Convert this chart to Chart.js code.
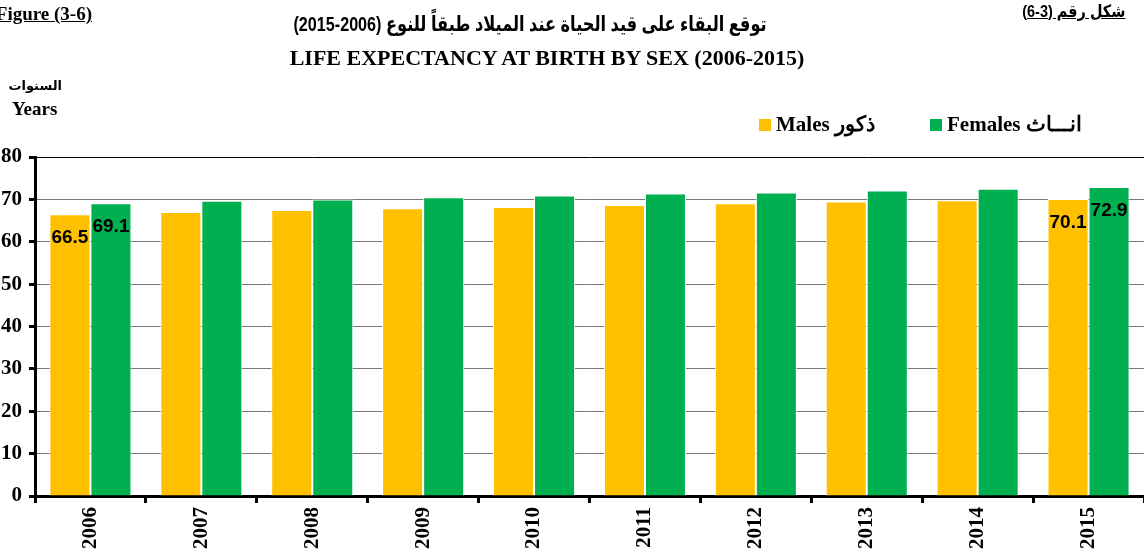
<!DOCTYPE html>
<html>
<head>
<meta charset="utf-8">
<script src="https://cdn.jsdelivr.net/npm/chart.js@4/dist/chart.umd.min.js"></script>
<style>
  body { margin: 0; background: #fff; }
  #wrap { position: relative; width: 1144px; height: 557px; overflow: hidden; }
  #chart { position: absolute; left: 0; top: 0; }
  .txt { position: absolute; white-space: nowrap; font-weight: bold; color: #000; line-height: 1; }
  .serif { font-family: "Liberation Serif", serif; }
  .sans { font-family: "Liberation Sans", "DejaVu Sans", sans-serif; }
  #legend { position: absolute; top: 112px; left: 759px; font: bold 21px "Liberation Serif", serif; }
  #legend span.item { position: absolute; top: 0; display: flex; align-items: center; white-space: nowrap; }
  #legend i { display: inline-block; width: 12px; height: 12px; margin-right: 5px; }
</style>
</head>
<body>
<div id="wrap">
  <canvas id="chart" width="1144" height="557"></canvas>

  <div class="txt serif" style="right:1052px; top:4px; font-size:19px; text-decoration:underline;">Figure (3-6)</div>
  <div class="txt sans" dir="rtl" style="right:19px; top:3px; font-size:17px; text-decoration:underline; transform:scaleX(0.85); transform-origin:right;">شكل رقم (3-6)</div>

  <div class="txt sans" dir="rtl" style="left:180px; width:700px; text-align:center; top:13px; font-size:21px; transform:scaleX(0.77);">توقع البقاء على قيد الحياة عند الميلاد طبقاً للنوع (2006-2015)</div>
  <div class="txt serif" style="left:247px; width:600px; text-align:center; top:47px; font-size:22px;">LIFE EXPECTANCY AT BIRTH BY SEX (2006-2015)</div>

  <div class="txt sans" dir="rtl" style="left:12px; width:50px; text-align:right; top:79px; font-size:13px;">السنوات</div>
  <div class="txt serif" style="left:12px; top:99px; font-size:19px;">Years</div>

  <div id="legend"></div>
</div>

<script>
const years = ['2006', '2007', '2008', '2009', '2010', '2011', '2012', '2013', '2014', '2015'];
const males = [66.5, 67.0, 67.5, 67.9, 68.2, 68.7, 69.1, 69.5, 69.8, 70.1];
const females = [69.1, 69.7, 70.0, 70.5, 70.9, 71.4, 71.6, 72.1, 72.5, 72.9];
const seriesNames = ['Males ذكور', 'Females انـــاث'];
const seriesColors = ['#FFC000', '#00B050'];
const labelledYears = ['2006', '2015'];
const yTicks = [0, 80, 10];

// etiquetas de valor solo en el primer y último año
const valueLabels = {
  id: 'valueLabels',
  afterDatasetsDraw(chart) {
    const ctx = chart.ctx;
    ctx.save();
    ctx.font = 'bold 19px "Liberation Sans", sans-serif';
    ctx.fillStyle = '#000';
    ctx.textAlign = 'center';
    ctx.textBaseline = 'middle';
    chart.data.datasets.forEach((ds, i) => {
      chart.getDatasetMeta(i).data.forEach((bar, j) => {
        if (!labelledYears.includes(chart.data.labels[j])) return;
        ctx.fillText(ds.data[j].toFixed(1), bar.x, bar.y + 24);
      });
    });
    ctx.restore();
  }
};

Chart.defaults.font.family = '"Liberation Serif", serif';

const chart = new Chart(document.getElementById('chart').getContext('2d'), {
  type: 'bar',
  data: {
    labels: years,
    datasets: [
      { label: seriesNames[0], data: males, backgroundColor: seriesColors[0], borderColor: '#fff', borderWidth: 1 },
      { label: seriesNames[1], data: females, backgroundColor: seriesColors[1], borderColor: '#fff', borderWidth: 1 }
    ]
  },
  options: {
    responsive: false,
    animation: false,
    layout: { padding: { top: 157, left: 0, right: 0, bottom: 0 } },
    datasets: { bar: { categoryPercentage: 0.74, barPercentage: 1 } },
    plugins: { legend: { display: false }, tooltip: { enabled: false } },
    scales: {
      x: {
        grid: { offset: true, drawOnChartArea: false, tickLength: 7, tickColor: '#000', tickWidth: 3 },
        border: { color: '#000', width: 3 },
        ticks: { color: '#000', font: { size: 21, weight: 'bold' }, minRotation: 90, maxRotation: 90, padding: 4 },
        afterFit: s => { s.height = 61; }
      },
      y: {
        min: yTicks[0],
        max: yTicks[1],
        ticks: { stepSize: yTicks[2], color: '#000', font: { size: 21, weight: 'bold' }, padding: 7 },
        grid: {
          color: c => (c.tick && c.tick.value === yTicks[1]) ? '#000' : '#777',
          lineWidth: 1,
          tickColor: '#000',
          tickLength: 6,
          tickWidth: 3
        },
        border: { color: '#000', width: 3 },
        afterFit: s => { s.width = 35; }
      }
    }
  },
  plugins: [valueLabels]
});

// leyenda en HTML
const legend = document.getElementById('legend');
const legendOffsets = [0, 171];
chart.data.datasets.forEach((ds, i) => {
  const item = document.createElement('span');
  item.className = 'item';
  item.style.left = legendOffsets[i] + 'px';
  item.innerHTML = '<i style="background:' + ds.backgroundColor + '"></i>' + ds.label;
  legend.appendChild(item);
});
</script>
</body>
</html>
